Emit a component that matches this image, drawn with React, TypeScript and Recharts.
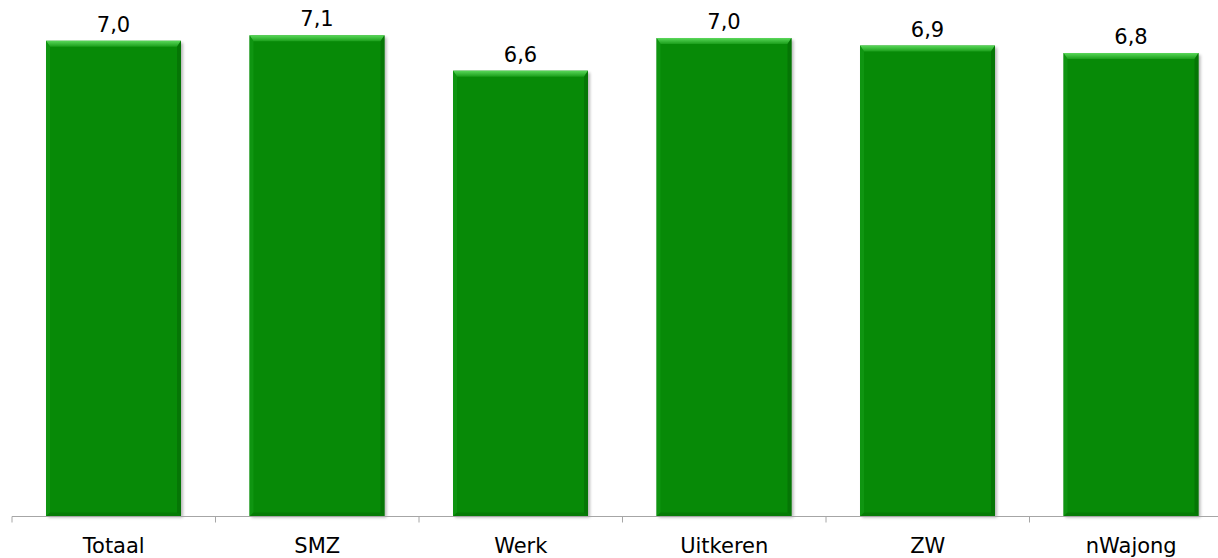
import React from 'react';
import { BarChart, Bar, XAxis, YAxis, LabelList } from 'recharts';

const categories = ['Totaal', 'SMZ', 'Werk', 'Uitkeren', 'ZW', 'nWajong'];
const scores = [7.0, 7.08, 6.56, 7.04, 6.93, 6.82];
const yDomain: [number, number] = [0, 7.6];

const data = categories.map((name, i) => ({ name, value: scores[i] }));

const FONT = 'Verdana, "DejaVu Sans", sans-serif';

const fmt = (v: any) => Number(v).toFixed(1).replace('.', ',');

const BevelBar = (props: any) => {
  const { x, y, width: w, height: h, index } = props;
  if (!h || h <= 0) return null;
  const b = 6;
  const s = 4;
  const gid = `tb${index}`;
  const fid = `sh${index}`;
  return (
    <g>
      <defs>
        <linearGradient id={gid} x1="0" y1="0" x2="0" y2="1">
          <stop offset="0%" stopColor="#5ad85a" />
          <stop offset="100%" stopColor="#1a9e1a" />
        </linearGradient>
        <filter id={fid} x="-10%" y="-10%" width="120%" height="120%">
          <feGaussianBlur stdDeviation="1.5" />
        </filter>
      </defs>
      <rect x={x + 2} y={y + 2} width={w} height={h - 1} fill="#000" opacity={0.28} filter={`url(#${fid})`} />
      <rect x={x} y={y} width={w} height={h} fill="#078a07" />
      <polygon points={`${x},${y} ${x + w},${y} ${x + w - s},${y + b} ${x + s},${y + b}`} fill={`url(#${gid})`} />
      <polygon points={`${x},${y} ${x + s},${y + b} ${x + s},${y + h - s} ${x},${y + h}`} fill="#139a16" opacity={0.7} />
      <polygon points={`${x + w},${y} ${x + w},${y + h} ${x + w - s},${y + h - s} ${x + w - s},${y + b}`} fill="#056f05" opacity={0.75} />
      <polygon points={`${x},${y + h} ${x + w},${y + h} ${x + w - s},${y + h - s} ${x + s},${y + h - s}`} fill="#057505" opacity={0.75} />
    </g>
  );
};

const CatTick = (props: any) => {
  const { x, y, payload } = props;
  const off = payload && typeof payload.offset === 'number' ? payload.offset : 0;
  const axisY = y - 22;
  return (
    <g>
      <line x1={x - off} x2={x - off} y1={axisY} y2={axisY + 6} stroke="#a6a6a6" strokeWidth={1} />
      <text x={x} y={y} dy="0.71em" textAnchor="middle" fontFamily={FONT} fontSize={21} fill="#000">
        {payload.value}
      </text>
    </g>
  );
};

export default function App() {
  return (
    <div style={{ position: 'absolute', left: 0, top: 0, width: 1218, height: 558, overflow: 'hidden', background: '#fff' }}>
      <BarChart
        width={1240}
        height={558}
        data={data}
        margin={{ top: 0, right: 7, bottom: 0, left: 12 }}
      >
        <XAxis
          dataKey="name"
          height={41.5}
          tickLine={false}
          tickSize={0}
          tickMargin={22}
          axisLine={{ stroke: '#a6a6a6', strokeWidth: 1 }}
          tick={<CatTick />}
          interval={0}
        />
        <YAxis hide domain={yDomain} />
        <Bar dataKey="value" barSize={135} isAnimationActive={false} shape={<BevelBar />}>
          <LabelList
            dataKey="value"
            position="top"
            offset={9}
            formatter={fmt}
            style={{ fontFamily: FONT, fontSize: 21, fill: '#000' }}
          />
        </Bar>
      </BarChart>
    </div>
  );
}
